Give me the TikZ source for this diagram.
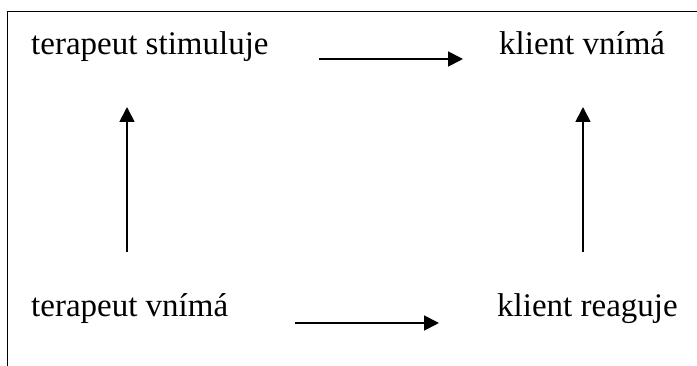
\documentclass[tikz,border=0pt]{standalone}
\usepackage{fontspec}
\setmainfont{Liberation Serif}
\usetikzlibrary{arrows.meta}
\begin{document}
\begin{tikzpicture}[x=1pt,y=-1pt,
  lbl/.style={anchor=base west,inner sep=0pt,font=\fontsize{33}{40}\selectfont},
  arr/.style={line width=1.8pt,-{Triangle[length=15pt,width=15pt]}},
  frame/.style={line width=1.5pt}]
\useasboundingbox (0,0) rectangle (697,366);
\draw[frame] (7.5,366) -- (7.5,11.5) -- (697,11.5);
\node[lbl] (ts) at (31,55) {terapeut stimuluje};
\node[lbl] (kv) at (499,55) {klient vnímá};
\node[lbl] (tv) at (31,317) {terapeut vnímá};
\node[lbl] (kr) at (497,317) {klient reaguje};
\coordinate (a1s) at (319,59);
\coordinate (a1e) at (463,59);
\coordinate (a2s) at (295,323);
\coordinate (a2e) at (439,323);
\coordinate (a3s) at (127,252);
\coordinate (a3e) at (127,107);
\coordinate (a4s) at (583,252);
\coordinate (a4e) at (583,107);
\draw[arr] (a1s) -- (a1e);
\draw[arr] (a2s) -- (a2e);
\draw[arr] (a3s) -- (a3e);
\draw[arr] (a4s) -- (a4e);
\end{tikzpicture}
\end{document}
